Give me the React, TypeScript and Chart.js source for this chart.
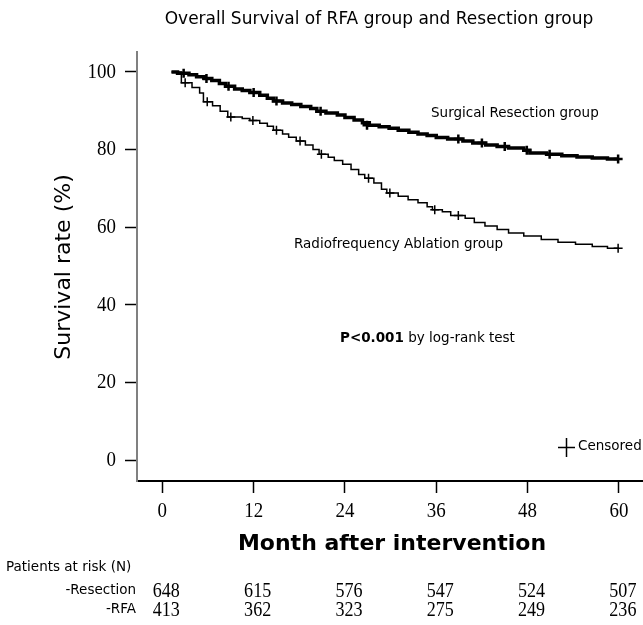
import React, { useEffect, useRef } from "react";
import { Chart, registerables } from "chart.js";

Chart.register(...registerables);

const TITLE = "Overall Survival of RFA group and Resection group";
const X_TITLE = "Month after intervention";
const Y_TITLE = "Survival rate (%)";
const X_TICKS = [0, 12, 24, 36, 48, 60];
const Y_TICKS = [0, 20, 40, 60, 80, 100];

// Surgical resection: Kaplan-Meier step times (months) and survival (%)
const resectionTimes = [1.2, 2.0, 3.5, 4.5, 5.5, 6.5, 7.5, 8.3, 9.5, 10.5, 11.5, 12.8, 13.8, 14.6, 15.8, 17.0, 18.2, 19.5, 20.3, 21.5, 23.0, 24.0, 25.2, 26.3, 27.2, 28.5, 29.8, 31.0, 32.4, 33.6, 34.8, 36.0, 37.5, 39.5, 40.8, 42.5, 44.0, 45.5, 47.5, 48.3, 50.5, 52.5, 54.5, 56.5, 58.5, 60.0];
const resectionSurvival = [100, 99.7, 99.3, 98.8, 98.3, 97.8, 97.0, 96.3, 95.6, 95.2, 94.7, 94.0, 93.2, 92.5, 92.0, 91.6, 91.1, 90.6, 89.9, 89.4, 88.9, 88.3, 87.6, 86.9, 86.3, 85.9, 85.5, 85.0, 84.5, 84.0, 83.6, 83.1, 82.7, 82.2, 81.7, 81.2, 80.8, 80.4, 79.8, 79.1, 78.8, 78.4, 78.1, 77.8, 77.6, 77.6];
const resectionCensorTimes = [2.8, 5.8, 8.7, 12.0, 15.0, 20.8, 26.9, 38.9, 42.0, 45.0, 47.9, 50.9, 59.9];
const resectionCensorSurvival = [99.7, 98.3, 96.3, 94.7, 92.5, 89.9, 86.3, 82.7, 81.7, 80.8, 79.8, 78.8, 77.6];

// Radiofrequency ablation
const rfaTimes = [1.2, 2.5, 3.9, 4.9, 5.4, 6.6, 7.6, 8.6, 10.5, 11.5, 12.8, 13.8, 14.6, 15.8, 16.6, 17.6, 18.8, 19.8, 20.6, 21.8, 22.6, 23.7, 24.8, 25.8, 26.6, 27.8, 28.8, 29.5, 31.0, 32.3, 33.6, 34.8, 35.5, 36.8, 37.9, 39.8, 41.0, 42.4, 44.0, 45.5, 47.5, 49.8, 52.0, 54.3, 56.5, 58.5, 60.0];
const rfaSurvival = [100, 97.2, 96.0, 94.6, 92.3, 91.3, 89.9, 88.4, 88.0, 87.5, 86.8, 86.0, 85.0, 84.0, 83.2, 82.2, 81.2, 80.0, 78.8, 78.0, 77.2, 76.2, 74.9, 73.6, 72.6, 71.4, 69.8, 68.8, 68.0, 67.1, 66.3, 65.3, 64.5, 64.0, 63.0, 62.3, 61.2, 60.3, 59.4, 58.5, 57.7, 56.8, 56.1, 55.6, 55.0, 54.6, 54.6];
const rfaCensorTimes = [3.0, 5.9, 9.0, 11.9, 15.0, 18.1, 20.9, 27.1, 29.9, 35.8, 38.9, 59.9];
const rfaCensorSurvival = [97.2, 92.3, 88.4, 87.5, 85.0, 82.2, 78.8, 72.6, 68.8, 64.5, 63.0, 54.6];

const RISK_LABELS = ["-Resection", "-RFA"];
const riskResection = [648, 615, 576, 547, 524, 507];
const riskRFA = [413, 362, 323, 275, 249, 236];

const SANS = '"DejaVu Sans"';
const SERIF = '"Liberation Serif"';

const toPts = (xs: number[], ys: number[]) => xs.map((x, i) => ({ x, y: ys[i] }));

function serifText(ctx: CanvasRenderingContext2D, txt: string, x: number, y: number, align: "left" | "center" | "right", size = 22) {
  ctx.save();
  ctx.font = `${size}px ${SERIF}`;
  ctx.textBaseline = "middle";
  ctx.textAlign = align;
  ctx.translate(x, y);
  ctx.scale(0.86, 1);
  ctx.fillText(txt, 0, 0);
  ctx.restore();
}

const textPlugin = {
  id: "kmTexts",
  afterDraw(chart: any) {
    const ctx: CanvasRenderingContext2D = chart.ctx;
    const xs = chart.scales.x;
    const ys = chart.scales.y;
    ctx.save();
    ctx.fillStyle = "#000";
    ctx.strokeStyle = "#000";

    // title
    ctx.font = `17px ${SANS}`;
    ctx.textAlign = "center";
    ctx.textBaseline = "middle";
    ctx.fillText(TITLE, 379, 20);

    // y tick labels
    Y_TICKS.forEach((v) => serifText(ctx, String(v), 116, ys.getPixelForValue(v), "right"));
    // x tick labels
    X_TICKS.forEach((v) => serifText(ctx, String(v), xs.getPixelForValue(v), 511, "center"));

    // axis titles
    ctx.font = `bold 22px ${SANS}`;
    ctx.textAlign = "center";
    ctx.fillText(X_TITLE, 392, 544);
    ctx.save();
    ctx.translate(64, 267);
    ctx.rotate(-Math.PI / 2);
    ctx.font = `22px ${SANS}`;
    ctx.fillText(Y_TITLE, 0, 0);
    ctx.restore();

    // annotations
    ctx.font = `13.5px ${SANS}`;
    ctx.textAlign = "left";
    ctx.fillText("Surgical Resection group", 431, 113);
    ctx.fillText("Radiofrequency Ablation group", 294, 244);
    ctx.font = `bold 13.5px ${SANS}`;
    ctx.fillText("P<0.001", 340, 338);
    const w = ctx.measureText("P<0.001").width;
    ctx.font = `13.5px ${SANS}`;
    ctx.fillText(" by log-rank test", 340 + w, 338);

    // censored legend
    ctx.lineWidth = 1.5;
    ctx.beginPath();
    ctx.moveTo(558, 447.5);
    ctx.lineTo(575, 447.5);
    ctx.moveTo(566.5, 438);
    ctx.lineTo(566.5, 457);
    ctx.stroke();
    ctx.fillText("Censored", 578, 446);

    // risk table
    ctx.fillText("Patients at risk (N)", 6, 567);
    ctx.textAlign = "right";
    ctx.fillText(RISK_LABELS[0], 136, 590);
    ctx.fillText(RISK_LABELS[1], 136, 609);
    X_TICKS.forEach((t, i) => {
      const px = xs.getPixelForValue(t) + 4;
      serifText(ctx, String(riskResection[i]), px, 591, "center", 21);
      serifText(ctx, String(riskRFA[i]), px, 610, "center", 21);
    });
    ctx.restore();
  },
};

export default function App() {
  const ref = useRef<HTMLCanvasElement | null>(null);
  useEffect(() => {
    if (!ref.current) return;
    const chart = new Chart(ref.current, {
      type: "line",
      data: {
        datasets: [
          {
            label: "Surgical Resection group",
            data: toPts(resectionTimes, resectionSurvival),
            stepped: true,
            borderColor: "#000",
            borderWidth: 3.5,
            pointRadius: 0,
            fill: false,
          },
          {
            label: "Radiofrequency Ablation group",
            data: toPts(rfaTimes, rfaSurvival),
            stepped: true,
            borderColor: "#000",
            borderWidth: 1.5,
            pointRadius: 0,
            fill: false,
          },
          {
            label: "Resection censored",
            data: toPts(resectionCensorTimes, resectionCensorSurvival),
            showLine: false,
            pointStyle: "cross",
            pointRadius: 4.5,
            pointBorderWidth: 2.5,
            pointBorderColor: "#000",
            borderColor: "#000",
          },
          {
            label: "RFA censored",
            data: toPts(rfaCensorTimes, rfaCensorSurvival),
            showLine: false,
            pointStyle: "cross",
            pointRadius: 4.5,
            pointBorderWidth: 1.5,
            pointBorderColor: "#000",
            borderColor: "#000",
          },
        ],
      },
      options: {
        animation: false,
        responsive: false,
        devicePixelRatio: 1,
        layout: { autoPadding: false, padding: { left: 125, top: 52, right: 0, bottom: 132 } },
        plugins: { legend: { display: false }, tooltip: { enabled: false }, title: { display: false } },
        scales: {
          x: {
            type: "linear",
            min: -3.33,
            max: 63.17,
            afterBuildTicks: (s: any) => { s.ticks = X_TICKS.map((v) => ({ value: v })); },
            ticks: { display: false },
            grid: { drawOnChartArea: false, drawTicks: true, tickLength: 12, tickColor: "#000", tickWidth: 1.5 },
            border: { display: true, color: "#000", width: 2 },
          },
          y: {
            type: "linear",
            min: -5.41,
            max: 105.15,
            afterBuildTicks: (s: any) => { s.ticks = Y_TICKS.map((v) => ({ value: v })); },
            ticks: { display: false },
            grid: { drawOnChartArea: false, drawTicks: true, tickLength: 12, tickColor: "#000", tickWidth: 1.5 },
            border: { display: true, color: "#808080", width: 2 },
          },
        },
      },
      plugins: [textPlugin],
    });
    return () => chart.destroy();
  }, []);
  return (
    <div style={{ position: "fixed", left: 0, top: 0, width: 643, height: 625, background: "#fff" }}>
      <canvas ref={ref} width={643} height={625} style={{ display: "block" }} />
    </div>
  );
}
